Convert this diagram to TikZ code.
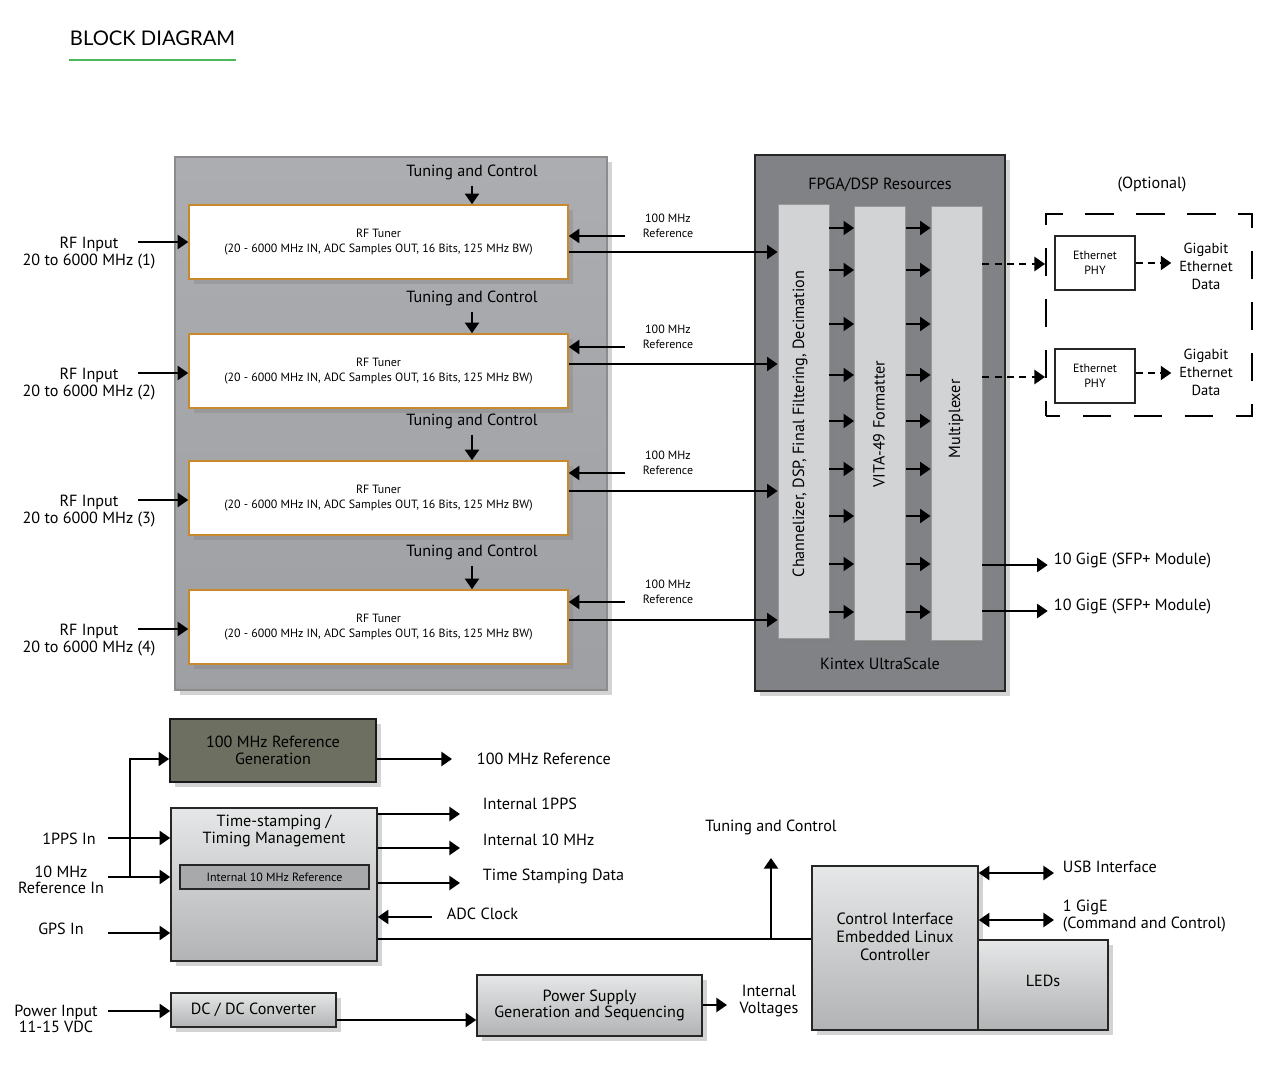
\documentclass[tikz,border=0pt]{standalone}
\usepackage{fontspec}
\setmainfont{PT Sans}
\newfontfamily\titlefont{Lato}
\usepackage{tikz}
\usetikzlibrary{arrows.meta}
\usetikzlibrary{positioning,fit,shadows}

\definecolor{panelgray}{HTML}{A4A6AA}
\definecolor{fpgagray}{HTML}{808285}
\definecolor{colgray}{HTML}{D1D3D4}
\definecolor{olivebox}{HTML}{6D6F60}
\definecolor{tunerorange}{HTML}{C8882E}
\definecolor{titlegreen}{HTML}{4CB85C}

\begin{document}
\begin{tikzpicture}[x=0.02cm,y=-0.02cm,>={Triangle[length=6pt,width=8pt]},
	line width=1.1pt,
	lbl/.style={font=\fontsize{9.2}{9.4}\selectfont, align=center, inner sep=0pt},
	smalltxt/.style={font=\fontsize{6.8}{8.6}\selectfont, align=center, inner sep=0pt},
	shadowed/.style={drop shadow={shadow xshift=3pt, shadow yshift=-3pt, opacity=.35}},
	greybox/.style={draw=black!85, line width=0.9pt, top color=colgray!55!white, bottom color=colgray!85!black, shadowed, lbl},
	tuner/.style={draw=tunerorange, line width=0.9pt, fill=white, minimum width=7.58cm, minimum height=1.48cm, shadowed, smalltxt},
	colbox/.style={draw=black!40, line width=0.5pt, fill=colgray, minimum width=1.02cm, minimum height=8.68cm, shadowed},
	phy/.style={draw=black!85, line width=0.9pt, fill=white, minimum width=1.6cm, minimum height=1.08cm, smalltxt},
	dashline/.style={dash pattern=on 4pt off 3pt}]

	\useasboundingbox (0,0) rectangle (1269,1087);

	% title
	\node[anchor=west, inner sep=0pt, font=\titlefont\fontsize{11.5}{12}\selectfont] (title) at (69,38) {BLOCK DIAGRAM};
	\draw[titlegreen, line width=1.4pt] (title.west |- 0,60) -- (title.east |- 0,60);

	% panels
	\node[fit={(175,157) (607,690)}, inner sep=0pt, draw=black!45, line width=0.8pt, top color=panelgray!92!white, bottom color=panelgray!96!black, shadowed] (rfpanel) {};
	\node[fit={(755,155) (1005,691)}, inner sep=0pt, draw=black!85, line width=1pt, fill=fpgagray, shadowed] (fpga) {};
	\node[lbl] (fpgatxt) at (880,185) {FPGA/DSP Resources};
	\node[lbl] (kintex) at (880,664) {Kintex UltraScale};

	\node[colbox] (chan) at (803.5,421) {};
	\node[colbox] (vita) at (880,423) {};
	\node[colbox] (mux) at (956.5,423) {};
	\node[lbl, rotate=90] (chantxt) at (800,424) {Channelizer, DSP, Final Filtering, Decimation};
	\node[lbl, rotate=90] (vitatxt) at (879,424) {VITA-49 Formatter};
	\node[lbl, rotate=90] (muxtxt) at (956,419) {Multiplexer};

	\foreach \y in {228,270,324,375,421,469,516,564,612} {
		\draw[->] (chan.east |- 0,\y) -- (vita.west |- 0,\y);
		\draw[->] (vita.east |- 0,\y) -- (mux.west |- 0,\y);
	}

	% tuner rows
	\foreach \i/\ty/\cy/\ry/\oy/\iy in {1/242/172/236/252/242, 2/371/298/347/364/373, 3/498/421/473/491/500, 4/627/552/602/620/629} {
		\node[tuner] (t\i) at (378.5,\ty) {RF Tuner\\(20 - 6000 MHz IN, ADC Samples OUT, 16 Bits, 125 MHz BW)};
		\node[lbl] (tc\i) at (472,\cy) {Tuning and Control};
		\draw[->, shorten <=3pt] (tc\i.south) -- (tc\i.south |- t\i.north);
		\node[lbl] (rf\i) at (89,\iy+11) {RF Input\\20 to 6000 MHz (\i)};
		\coordinate (in\i) at (138,\iy);
		\draw[->] (in\i) -- (t\i.west |- in\i);
		\coordinate (ref\i) at (625,\ry);
		\node[smalltxt] (reftxt\i) at (668,\ry-10) {100 MHz\\Reference};
		\draw[->] (ref\i) -- (t\i.east |- ref\i);
		\draw[->] (t\i.east |- 0,\oy) -- (chan.west |- 0,\oy);
	}

	% optional ethernet
	\node[lbl] (optional) at (1152,185) {(Optional)};
	\node[fit={(1046,214) (1252,416)}, inner sep=0pt, draw, dash pattern=on 16pt off 13pt, dash phase=8pt] (optbox) {};
	\node[phy] (p1) at (1095,263) {Ethernet\\PHY};
	\node[phy] (p2) at (1095,376) {Ethernet\\PHY};
	\node[lbl, font=\fontsize{8.3}{10.2}\selectfont] (ge1) at (1206,266) {Gigabit\\Ethernet\\Data};
	\node[lbl, font=\fontsize{8.3}{10.2}\selectfont] (ge2) at (1206,372) {Gigabit\\Ethernet\\Data};
	\draw[->, dashline] (mux.east |- 0,264) -- (optbox.west |- 0,264);
	\draw[->, dashline] (mux.east |- 0,377) -- (optbox.west |- 0,377);
	\draw[->, dashline, shorten >=4pt] (p1.east) -- (p1.east -| ge1.west);
	\draw[->, dashline, shorten >=4pt] (p2.east |- 0,373) -- (ge2.west |- 0,373);

	\node[lbl, anchor=west] (sfp1) at (1053,561) {10 GigE (SFP+ Module)};
	\node[lbl, anchor=west] (sfp2) at (1053,607) {10 GigE (SFP+ Module)};
	\draw[->, shorten >=3pt] (mux.east |- 0,565) -- (sfp1.west |- 0,565);
	\draw[->, shorten >=3pt] (mux.east |- 0,611) -- (sfp2.west |- 0,611);

	% timing and reference
	\node[draw=black!90, line width=1pt, fill=olivebox, minimum width=4.12cm, minimum height=1.26cm, shadowed, lbl] (refgen) at (273,750.5) {100 MHz Reference\\Generation};
	\coordinate (refend) at (452,759);
	\node[lbl, anchor=west] (refout) at (476,759) {100 MHz Reference};
	\draw[->] (refgen.east |- refend) -- (refend);

	\node[greybox, minimum width=4.12cm, minimum height=3.06cm] (timing) at (274,884.5) {};
	\node[lbl] (timingtxt) at (274,831) {Time-stamping /\\Timing Management};
	\node[draw=black!85, line width=0.9pt, fill=colgray!80!black, minimum width=3.78cm, minimum height=0.48cm, smalltxt] (int10) at (274.5,877) {Internal 10 MHz Reference};

	\node[lbl, anchor=west] (pps) at (482,804) {Internal 1PPS};
	\node[lbl, anchor=west] (int10m) at (482,840) {Internal 10 MHz};
	\node[lbl, anchor=west] (tsdata) at (482,876) {Time Stamping Data};
	\node[lbl, anchor=west] (adctxt) at (446,914) {ADC Clock};
	\coordinate (ppsend) at (460,814);
	\coordinate (int10end) at (460,848);
	\coordinate (tsend) at (460,883);
	\coordinate (adc) at (432,917);
	\draw[->] (timing.east |- ppsend) -- (ppsend);
	\draw[->] (timing.east |- int10end) -- (int10end);
	\draw[->] (timing.east |- tsend) -- (tsend);
	\draw[->] (adc) -- (timing.east |- adc);

	\node[lbl] (ppsin) at (69,839) {1PPS In};
	\node[lbl] (tenin) at (61,880) {10 MHz\\Reference In};
	\node[lbl] (gpsin) at (61,929) {GPS In};
	\coordinate (ppsstart) at (108,838);
	\coordinate (tenstart) at (108,877);
	\coordinate (gpsstart) at (108,933);
	\coordinate (split) at (130,877);
	\draw[->] (ppsstart) -- (timing.west |- ppsstart);
	\draw[->] (tenstart) -- (timing.west |- tenstart);
	\draw[->] (gpsstart) -- (timing.west |- gpsstart);
	\draw[->] (split) |- (refgen.west |- refend);

	% power
	\node[lbl] (pwrin) at (56,1019) {Power Input\\11-15 VDC};
	\coordinate (pwrstart) at (108,1011);
	\node[greybox, minimum width=3.3cm, minimum height=0.68cm] (dcdc) at (253.5,1010) {DC / DC Converter};
	\node[greybox, minimum width=4.5cm, minimum height=1.22cm] (psu) at (589.5,1005.5) {Power Supply\\Generation and Sequencing};
	\node[lbl] (voltages) at (769,1001) {Internal\\Voltages};
	\coordinate (voltend) at (727,1005);
	\draw[->] (pwrstart) -- (dcdc.west |- pwrstart);
	\draw[->] (dcdc.east |- 0,1020) -- (psu.west |- 0,1020);
	\draw[->] (psu.east |- voltend) -- (voltend);

	% control
	\node[greybox, minimum width=3.32cm, minimum height=3.28cm] (ctrl) at (895,948) {};
	\node[lbl, font=\fontsize{9.3}{10.2}\selectfont] (ctrltxt) at (895,937) {Control Interface\\Embedded Linux\\Controller};
	\node[greybox, minimum width=2.6cm, minimum height=1.8cm] (leds) at (1043,985) {};
	\node[lbl] (ledstxt) at (1043,981) {LEDs};
	\draw (timing.east |- 0,939) -- (ctrl.west |- 0,939);
	\coordinate (tunebus) at (771,939);
	\coordinate (tuneend) at (771,858);
	\node[lbl] (tunetxt) at (771,827) {Tuning and Control};
	\draw[->] (tunebus) -- (tuneend);

	\node[lbl, anchor=west] (usb) at (1062,867) {USB Interface};
	\node[lbl, anchor=west, align=left] (gige) at (1062,916) {1 GigE\\(Command and Control)};
	\coordinate (usbend) at (1054,873);
	\coordinate (gigeend) at (1054,920);
	\draw[<->] (ctrl.east |- usbend) -- (usbend);
	\draw[<->] (ctrl.east |- gigeend) -- (gigeend);
\end{tikzpicture}
\end{document}
